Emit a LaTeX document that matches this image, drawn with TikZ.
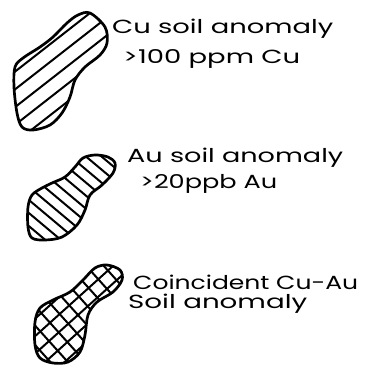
\documentclass[tikz,border=0pt]{standalone}
\usepackage{fontspec}
\setsansfont{Poppins}
\usepackage{graphicx}
\usepackage{tikz}
\usetikzlibrary{positioning}
\newcommand\handtext[2]{\resizebox{#1}{\height}{#2}}

\begin{document}
\begin{tikzpicture}[
  x=1pt, y=-1pt,
  outline/.style={draw=black, line width=2.7pt, line join=round},
  hatch/.style={draw=black, line width=2pt},
  label/.style={anchor=base west, inner sep=0pt, font=\sffamily\fontsize{19}{19}\selectfont}
]
  \useasboundingbox (0,0) rectangle (365,373);

  % Cu anomaly
  \path[save path=\cublob] plot[smooth cycle, tension=0.55] coordinates {
    (90,13) (105,27) (107,43) (100,55) (85,67) (75,80) (70,97) (62,113)
    (50,125) (33,130) (22,127) (17,113) (14,87) (15,67) (23,58) (40,47)
    (53,37) (67,23) (78,15)};
  \begin{scope}
    \clip[use path=\cublob];
    \begin{scope}[shift={(60,72)}, rotate=38]
      \foreach \c in {-98,-84,...,98}
        \draw[hatch] (-120,\c) -- (120,\c);
    \end{scope}
  \end{scope}
  \draw[outline, use path=\cublob];
  \node[label] (cu1) at (112,33) {\handtext{221pt}{Cu soil anomaly}};
  \node[label] (cu2) at (123,63) {\handtext{177pt}{>100 ppm Cu}};

  % Au anomaly
  \path[save path=\aublob] plot[smooth cycle, tension=0.55] coordinates {
    (95,155) (108,157) (115,163) (113,173) (102,185) (90,195) (85,210)
    (77,225) (62,237) (45,240) (32,238) (28,227) (28,207) (32,195)
    (42,188) (52,183) (65,177) (75,167) (83,158)};
  \begin{scope}
    \clip[use path=\aublob];
    \begin{scope}[shift={(72,197)}, rotate=-40]
      \foreach \c in {-100,-90,...,100}
        \draw[hatch] (-120,\c) -- (120,\c);
    \end{scope}
  \end{scope}
  \draw[outline, use path=\aublob];
  \node[label] (au1) at (127,162) {\handtext{216pt}{Au soil anomaly}};
  \node[label] (au2) at (140,188) {\handtext{137pt}{>20ppb Au}};

  % Coincident anomaly
  \path[save path=\coblob] plot[smooth cycle, tension=0.55] coordinates {
    (107,265) (120,270) (122,280) (113,292) (97,302) (88,315) (85,335)
    (80,352) (68,362) (53,363) (40,358) (35,345) (35,322) (40,308)
    (53,300) (70,292) (83,280) (95,268)};
  \begin{scope}
    \clip[use path=\coblob];
    \begin{scope}[shift={(78,315)}, rotate=42]
      \foreach \c in {-104,-91,...,104} {
        \draw[hatch] (-120,\c) -- (120,\c);
        \draw[hatch] (\c,-120) -- (\c,120);
      }
    \end{scope}
  \end{scope}
  \draw[outline, use path=\coblob];
  \node[label] (co1) at (133,289) {\handtext{225pt}{Coincident Cu-Au}};
  \node[label] (co2) at (128,308) {\handtext{179pt}{Soil anomaly}};
\end{tikzpicture}
\end{document}
